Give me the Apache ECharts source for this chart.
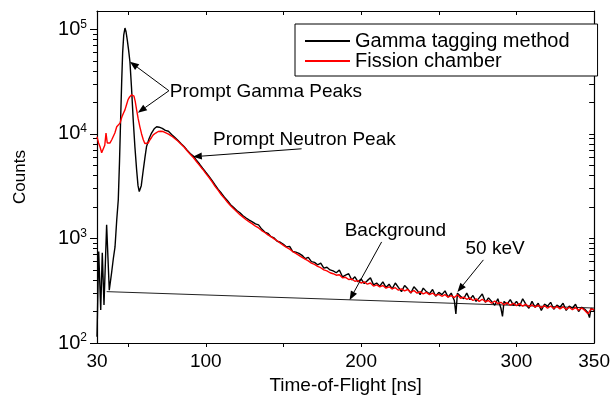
<!DOCTYPE html>
<html><head><meta charset="utf-8">
<script src="https://cdn.jsdelivr.net/npm/echarts@6/dist/echarts.min.js"></script>
<style>html,body{margin:0;padding:0;background:#fff}#c{width:613px;height:400px}</style>
</head><body><div id="c"></div>
<script>
const FONT = '"Liberation Sans", Arial, Helvetica, sans-serif';

const xLabelValues = [30, 100, 200, 300, 350];
const xTickValues = [50, 100, 150, 200, 250, 300];
const yLabelValues = [100, 1000, 10000, 100000];
const yLabelExps = ['2', '3', '4', '5'];
const yMinorValues = [200,300,400,500,600,700,800,900,2000,3000,4000,5000,6000,7000,8000,9000,20000,30000,40000,50000,60000,70000,80000,90000];

const seriesNames = ['Gamma tagging method', 'Fission chamber'];

const gammaTime = [30,31.1,32.4,33.4,34.5,36.2,37.9,38.6,39.4,40.5,41.6,42.7,43.7,44.5,45.2,45.9,46.5,47.2,48,48.7,49.5,50.3,51.2,52.2,53.3,54.4,55.5,56.4,57.2,58.5,59.8,60.9,61.9,63.5,65.1,66.8,68.4,70,
72,74,76,78,80,82,84,86,88,90,92,94,96,98,100,102,104,106,108,110,112,114,116,118,120,122,124,126,128,130,132,134,136,138,140,142,144,146,148,150,152,154,156,158,160,162,164,166,168,170,172,174,176,178,180,182,184,186,188,190,192,194,196,198,200,202,204,206,208,210,212,214,216,218,220,222,224,226,228,230,232,234,236,238,240,242,244,246,248,250,252,254,256,258,260,261,262,264,266,268,270,272,274,276,278,280,282,284,286,288,290,291,292,294,296,298,300,302,304,306,308,310,312,314,316,318,320,322,324,326,328,330,332,334,336,338,340,342,344,346,347,348,350];
const gammaCounts = [115,750,207,728,231,1350,320,310,470,640,830,1500,2350,5500,13700,32000,59600,88000,103000,95000,79000,64000,49000,28000,13700,7500,4540,3200,2810,3200,4540,6000,7590,9000,10200,11200,11700,11600,
11300,10800,10600,9900,9300,8700,8100,7600,7000,6500,6150,5600,5150,4700,4300,3950,3600,3250,2950,2720,2480,2300,2100,1980,1850,1760,1650,1570,1500,1440,1380,1350,1230,1150,1120,1040,1010,940,920,880,830,840,750,740,720,690,640,660,600,590,560,580,520,530,500,490,470,500,430,445,460,400,430,385,410,370,395,420,360,375,350,385,340,365,330,375,340,310,355,330,300,345,320,290,335,310,295,325,280,305,290,315,275,300,255,190,300,280,265,300,260,285,250,270,295,245,270,250,230,265,215,180,250,235,260,230,250,225,265,235,215,250,220,240,205,235,225,245,210,230,220,240,205,225,215,235,200,220,210,195,175,215,205];

const fissionTime = [30,31,32,33,34,35,35.8,36.6,37.5,38.4,39.5,40.5,41.5,42.7,43.7,44.8,46,47,48,49,50,51,52.3,53.2,53.8,54.6,55.5,56.5,57.6,58.7,59.8,60.8,61.9,63,64.1,65.2,66.2,67.8,69.4,71,72.6,74,76,
78,80,82,84,86,88,90,92,94,96,98,100,102,104,106,108,110,112,114,116,118,120,122,124,126,128,130,132,134,136,138,140,142,144,146,148,150,152,154,156,158,160,162,164,166,168,170,172,174,176,178,180,182,184,186,188,190,192,194,196,198,200,202,204,206,208,210,212,214,216,218,220,222,224,226,228,230,232,234,236,238,240,242,244,246,248,250,252,254,256,258,260,262,264,266,268,270,272,274,276,278,280,282,284,286,288,290,292,294,296,298,300,302,304,306,308,310,312,314,316,318,320,322,324,326,328,330,332,334,336,338,340,342,344,346,348,350];
const fissionCounts = [9400,8200,7500,6600,6600,7800,10200,8200,8400,8200,8800,9100,10200,11700,12200,12700,14500,15800,17000,19000,21300,22600,23700,23700,23000,20500,17000,14000,11700,10000,8800,8100,7900,8200,8800,9300,9800,10200,10550,10600,10550,10300,9950,
9550,9050,8550,8000,7500,6900,6400,5950,5450,5000,4600,4200,3850,3500,3150,2880,2620,2420,2220,2060,1920,1800,1690,1600,1510,1440,1380,1310,1260,1190,1140,1080,1040,990,950,900,860,820,790,750,720,690,660,635,610,580,565,540,525,500,490,470,460,445,450,420,425,405,410,390,395,375,385,365,375,350,360,345,355,335,345,330,338,320,330,315,325,305,318,300,310,295,305,290,300,285,292,280,290,275,284,272,290,268,275,262,270,255,265,250,262,248,255,240,252,238,245,232,243,230,240,228,238,225,235,222,232,220,230,218,228,215,226,214,224,212,222,210,220,208,218,206,216,205,190,212,208];

const backgroundTime = [36.2, 350];
const backgroundCounts = [310, 216];

const annotationTexts = [
  { text: 'Prompt Gamma Peaks', at: [76.9, 25400] },
  { text: 'Prompt Neutron Peak', at: [104.7, 8790] },
  { text: 'Background', at: [189.4, 1183] },
  { text: '50 keV', at: [267.2, 789] }
];
const annotationArrows = [
  { from: [76.3, 25900], to: [51.2, 49000] },
  { from: [76.3, 25900], to: [56.3, 15960] },
  { from: [161.7, 7210], to: [91.7, 6050] },
  { from: [213.2, 927], to: [192.6, 258] },
  { from: [278.7, 624], to: [262, 308] }
];

function pairs(t, v) { const n = Math.min(t.length, v.length); const out = []; for (let i = 0; i < n; i++) out.push([t[i], v[i]]); return out; }

const chart = echarts.init(document.getElementById('c'), null, { renderer: 'canvas' });
const axisLineStyle = { color: '#000', width: 1.2 };
const logAxisBase = { type: 'log', logBase: 10, min: 100, max: 150000, splitLine: { show: false } };

chart.setOption({
  animation: false,
  backgroundColor: '#fff',
  grid: { left: 97, right: 18, top: 11, bottom: 57, containLabel: false },
  legend: {
    data: seriesNames, orient: 'vertical', left: 295, top: 24,
    icon: 'rect', itemWidth: 45, itemHeight: 2, itemGap: 0, itemTextGap: 7,
    padding: [7, 28, 5, 10], borderColor: '#000', borderWidth: 1, borderRadius: 0,
    backgroundColor: '#fff',
    textStyle: { fontSize: 20, color: '#000', fontFamily: FONT, lineHeight: 20 }
  },
  xAxis: [
    { type: 'value', position: 'bottom', min: 30, max: 350,
      axisLine: { onZero: false, lineStyle: axisLineStyle },
      axisTick: { customValues: xTickValues, length: 4, inside: false, lineStyle: { color: '#000', width: 1 } },
      axisLabel: { customValues: xLabelValues, fontSize: 19, color: '#000', fontFamily: FONT, margin: 9 },
      splitLine: { show: false },
      name: 'Time-of-Flight [ns]', nameLocation: 'middle', nameGap: 33,
      nameTextStyle: { fontSize: 19, color: '#000', fontFamily: FONT } },
    { type: 'value', position: 'top', min: 30, max: 350,
      axisLine: { onZero: false, lineStyle: axisLineStyle },
      axisTick: { customValues: xTickValues, length: 4, inside: true, lineStyle: { color: '#000', width: 1 } },
      axisLabel: { show: false }, splitLine: { show: false } }
  ],
  yAxis: [
    Object.assign({}, logAxisBase, { position: 'left',
      axisLine: { show: true, onZero: false, lineStyle: axisLineStyle },
      axisTick: { customValues: yLabelValues, length: 7, lineStyle: { color: '#000', width: 1 } },
      axisLabel: { customValues: yLabelValues, margin: 10, color: '#000',
        formatter: function (v) {
          let idx = 0;
          for (let i = 0; i < yLabelValues.length; i++) if (Math.abs(Math.log10(yLabelValues[i] / v)) < 0.01) idx = i;
          return '{b|10}{s|' + yLabelExps[idx] + '}';
        },
        rich: { b: { fontSize: 20, fontFamily: FONT, color: '#000', lineHeight: 22 },
                s: { fontSize: 12, fontFamily: FONT, color: '#000', verticalAlign: 'top', lineHeight: 12 } } },
      name: 'Counts', nameLocation: 'middle', nameGap: 68,
      nameTextStyle: { fontSize: 17, color: '#000', fontFamily: FONT } }),
    Object.assign({}, logAxisBase, { position: 'left',
      axisLine: { show: false },
      axisTick: { customValues: yMinorValues, length: 4, lineStyle: { color: '#000', width: 1 } },
      axisLabel: { show: false } }),
    Object.assign({}, logAxisBase, { position: 'right',
      axisLine: { show: true, onZero: false, lineStyle: axisLineStyle },
      axisTick: { customValues: yLabelValues.concat(yMinorValues), inside: true, length: 5, lineStyle: { color: '#000', width: 1 } },
      axisLabel: { show: false } })
  ],
  series: [
    { name: seriesNames[0], type: 'line', xAxisIndex: 0, yAxisIndex: 0, data: pairs(gammaTime, gammaCounts),
      symbol: 'none', lineStyle: { color: '#000', width: 1.4 }, itemStyle: { color: '#000' }, z: 3 },
    { name: seriesNames[1], type: 'line', xAxisIndex: 0, yAxisIndex: 0, data: pairs(fissionTime, fissionCounts),
      symbol: 'none', lineStyle: { color: '#ff0000', width: 1.4 }, itemStyle: { color: '#ff0000' }, z: 4 },
    { name: 'Background', type: 'line', xAxisIndex: 0, yAxisIndex: 0, data: pairs(backgroundTime, backgroundCounts),
      symbol: 'none', lineStyle: { color: '#222', width: 1 }, z: 2 }
  ]
});

function px(p) { return chart.convertToPixel({ xAxisIndex: 0, yAxisIndex: 0 }, p); }
const graphics = [];
annotationTexts.forEach(a => {
  const p = px(a.at);
  graphics.push({ type: 'text', x: p[0], y: p[1], z: 100,
    style: { text: a.text, font: '19px ' + FONT, fill: '#000', align: 'left', verticalAlign: 'middle' } });
});
annotationArrows.forEach(a => {
  const s = px(a.from), e = px(a.to);
  const dx = e[0] - s[0], dy = e[1] - s[1], L = Math.hypot(dx, dy);
  const ux = dx / L, uy = dy / L, hl = 9, hw = 3.5;
  const bx = e[0] - ux * hl, by = e[1] - uy * hl;
  graphics.push({ type: 'line', z: 100, shape: { x1: s[0], y1: s[1], x2: bx, y2: by }, style: { stroke: '#000', lineWidth: 1 } });
  graphics.push({ type: 'polygon', z: 100, shape: { points: [[e[0], e[1]], [bx - uy * hw, by + ux * hw], [bx + uy * hw, by - ux * hw]] }, style: { fill: '#000' } });
});
chart.setOption({ graphic: graphics });
</script>
</body></html>
